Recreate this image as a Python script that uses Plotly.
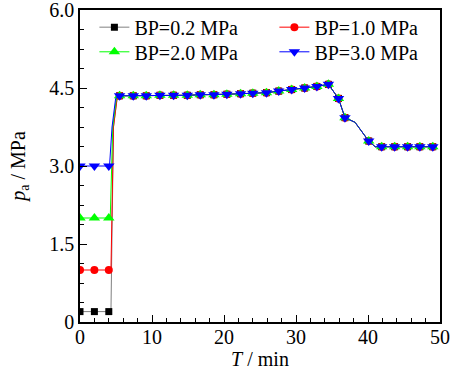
import plotly.graph_objects as go

# ---- data ----
series_names = ["BP=0.2 MPa", "BP=1.0 MPa", "BP=2.0 MPa", "BP=3.0 MPa"]
initial_p = [0.2, 1.0, 2.0, 3.0]
jump_shift = [0.1, 0.1, 0.0, -0.1]

# marker sample times (min) and common pressure after the jump (MPa)
t_initial = [0, 2, 4]
t_after = [5.5, 7.4, 9.2, 11.1, 13.0, 14.9, 16.7, 18.6, 20.4, 22.3, 24.0, 25.9,
           27.6, 29.4, 31.2, 32.9, 34.5, 35.9, 36.8, 40.1, 41.9, 43.7, 45.5,
           47.2, 49.0]
p_after = [4.35, 4.35, 4.35, 4.36, 4.36, 4.36, 4.37, 4.37, 4.38, 4.39, 4.40, 4.41,
           4.44, 4.47, 4.50, 4.53, 4.57, 4.30, 3.93, 3.48, 3.37, 3.37, 3.37,
           3.37, 3.37]

# unmarked points on the recorded curve (jump and recovery)
jump_t = [4.2, 4.55, 5.05]
jump_p_top = [3.75, 4.30]
tail_t = [38.2, 41.0]
tail_p = [3.84, 3.37]

x_ticks = [0, 10, 20, 30, 40, 50]
y_ticks = [0, 1.5, 3.0, 4.5, 6.0]
y_ticktext = ["0", "1.5", "3.0", "4.5", "6.0"]

line_colors = ["#808080", "#ff0000", "#00ff00", "#0000ff"]
marker_colors = ["#000000", "#ff0000", "#00ff00", "#0000ff"]
symbols = ["square", "circle", "triangle-up", "triangle-down"]
sizes = [7, 8, 10, 10]
legend_ids = ["legend", "legend2", "legend3", "legend4"]
legend_x = [0.04, 0.54, 0.04, 0.54]
legend_y = [0.945, 0.945, 0.866, 0.866]

FONT = "Liberation Serif"

fig = go.Figure()
for i, name in enumerate(series_names):
    p0 = initial_p[i]
    mx = list(t_initial) + list(t_after)
    my = [p0] * len(t_initial) + list(p_after)
    jt = [t + jump_shift[i] for t in jump_t]
    jp = [p0] + jump_p_top
    pts = list(zip(mx, my)) + list(zip(jt, jp)) + list(zip(tail_t, tail_p))
    pts.sort(key=lambda a: a[0])
    fig.add_trace(go.Scatter(
        x=[a[0] for a in pts], y=[a[1] for a in pts], mode="lines",
        line=dict(color=line_colors[i], width=1), showlegend=False,
        hoverinfo="skip"))
    fig.add_trace(go.Scatter(
        x=mx, y=my, mode="markers",
        marker=dict(symbol=symbols[i], size=sizes[i], color=marker_colors[i],
                    line=dict(width=0)),
        showlegend=False))

for i, name in enumerate(series_names):
    fig.add_trace(go.Scatter(
        x=[None], y=[None], mode="lines+markers", name=name,
        legend=legend_ids[i],
        line=dict(color=line_colors[i], width=1),
        marker=dict(symbol=symbols[i], size=sizes[i], color=marker_colors[i],
                    line=dict(width=0))))

legends = {}
for i, lid in enumerate(legend_ids):
    legends[lid] = dict(x=legend_x[i], y=legend_y[i], xanchor="left", yanchor="middle",
                        bgcolor="rgba(0,0,0,0)", borderwidth=0,
                        font=dict(family=FONT, size=20), itemsizing="trace")

fig.update_layout(
    width=456, height=372,
    margin=dict(l=80, r=16, t=10, b=50, autoexpand=False),
    plot_bgcolor="white", paper_bgcolor="white",
    font=dict(family=FONT, size=20, color="black"),
    showlegend=True,
    **legends,
)
fig.update_xaxes(
    range=[0, 50], tickvals=x_ticks, automargin=False, ticklabeloverflow="allow",
    ticklabelstandoff=-4,
    ticks="inside", ticklen=7, tickwidth=1.2, tickcolor="black",
    minor=dict(dtick=2, ticks="inside", ticklen=4, tickcolor="black", tickwidth=1),
    showline=True, linecolor="black", linewidth=1.5, mirror=True,
    showgrid=False, zeroline=False,
    title=dict(text="<i>T</i> / min", font=dict(family=FONT, size=20), standoff=0),
)
fig.update_yaxes(
    range=[0, 6.0], tickvals=y_ticks, ticktext=y_ticktext, automargin=False,
    ticklabeloverflow="allow",
    ticks="inside", ticklen=7, tickwidth=1.2, tickcolor="black",
    minor=dict(dtick=0.375, ticks="inside", ticklen=4, tickcolor="black", tickwidth=1),
    showline=True, linecolor="black", linewidth=1.5, mirror=True,
    showgrid=False, zeroline=False,
    title=dict(text="<i>p</i><sub>a</sub> / MPa", font=dict(family=FONT, size=20), standoff=18),
)

fig.write_html("out.html", config={"displayModeBar": False},
               post_script="document.body.style.margin='0px';")
